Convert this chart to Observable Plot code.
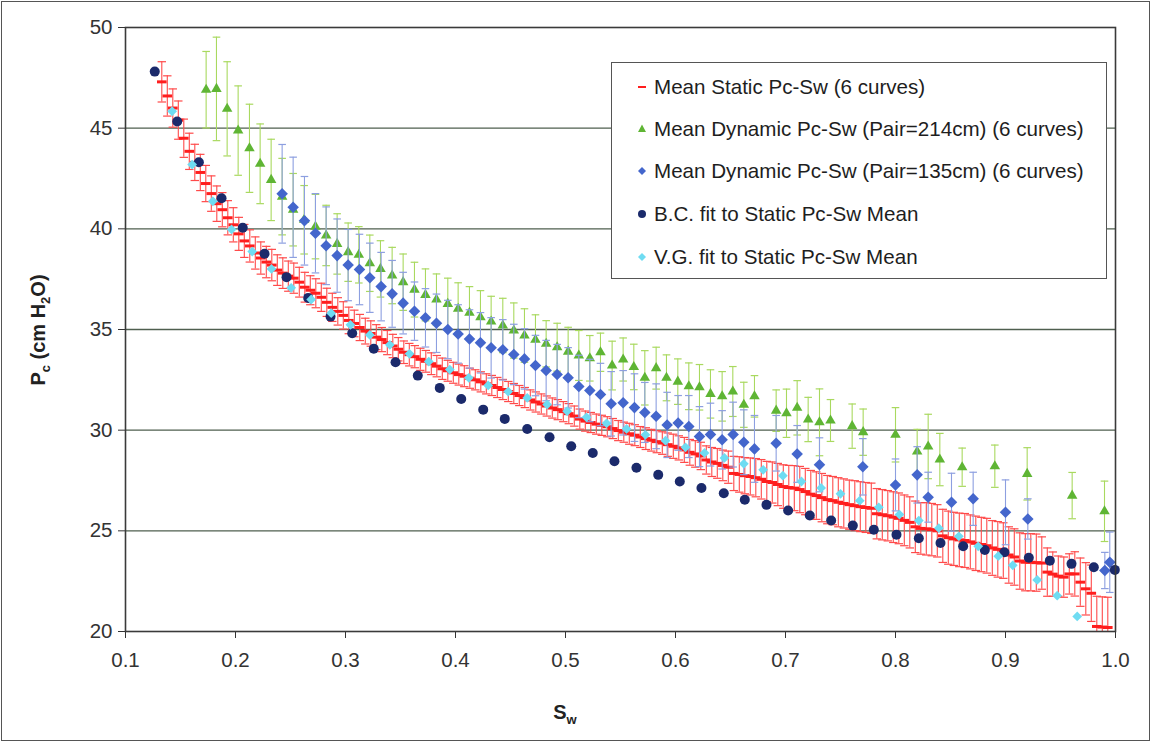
<!DOCTYPE html>
<html>
<head>
<meta charset="utf-8">
<script src="https://cdn.jsdelivr.net/npm/d3@7"></script>
<script src="https://cdn.jsdelivr.net/npm/@observablehq/plot@0.6"></script>
<style>
  body { margin: 0; background: #fff; font-family: "Liberation Sans", Arial, sans-serif; }
  #chart { position: relative; width: 1153px; height: 744px; overflow: hidden; }
  #outer { position: absolute; left: 1px; top: 1px; width: 1147px; height: 738px; border: 1.5px solid #555; pointer-events: none; }
  .ttl { position: absolute; font-weight: bold; font-size: 20px; color: #222; white-space: nowrap; }
  .ttl .sb { font-size: 13px; position: relative; top: 5px; }
  #ylab { left: 38px; top: 330px; transform: translate(-50%, -50%) rotate(-90deg); }
  #xlab { left: 565px; top: 712px; transform: translate(-50%, -50%); }
  #legend { position: absolute; left: 611px; top: 62px; width: 494px; height: 215px; border: 1.5px solid #555; background: #fff; }
  .entry { position: absolute; left: 0; height: 24px; display: flex; align-items: center; font-size: 20.6px; color: #1e1e1e; white-space: nowrap; }
  .entry svg { margin-left: 23px; margin-right: 5px; }
</style>
</head>
<body>
<div id="chart"></div>
<script>
// Mean static Pc-Sw curve (dash markers) with its standard-deviation bars
const staticSw = [
  0.133,0.138,0.143,0.148,0.153,0.158,0.163,0.168,0.173,0.178,
  0.183,0.188,0.193,0.198,0.203,0.208,0.213,0.218,0.223,0.228,
  0.233,0.238,0.243,0.248,0.253,0.258,0.263,0.268,0.273,0.278,
  0.283,0.288,0.293,0.298,0.303,0.308,0.313,0.318,0.323,0.328,
  0.333,0.338,0.343,0.348,0.353,0.358,0.363,0.368,0.373,0.378,
  0.383,0.388,0.393,0.398,0.403,0.408,0.413,0.418,0.423,0.428,
  0.433,0.438,0.443,0.448,0.453,0.458,0.463,0.468,0.473,0.478,
  0.483,0.488,0.493,0.498,0.503,0.508,0.513,0.518,0.523,0.528,
  0.533,0.538,0.543,0.548,0.553,0.558,0.563,0.568,0.573,0.578,
  0.583,0.588,0.593,0.598,0.603,0.608,0.613,0.618,0.623,0.628,
  0.633,0.638,0.643,0.648,0.653,0.658,0.663,0.668,0.673,0.678,
  0.683,0.688,0.693,0.698,0.703,0.708,0.713,0.718,0.723,0.728,
  0.733,0.738,0.743,0.748,0.753,0.758,0.763,0.768,0.773,0.778,
  0.783,0.788,0.793,0.798,0.803,0.808,0.813,0.818,0.823,0.828,
  0.833,0.838,0.843,0.848,0.853,0.858,0.863,0.868,0.873,0.878,
  0.883,0.888,0.893,0.898,0.903,0.908,0.913,0.918,0.923,0.928,
  0.933,0.938,0.943,0.948,0.953,0.958,0.963,0.968,0.973,0.978,
  0.983,0.988,0.993
];
const staticPc = [
  47.30,46.60,46.00,45.40,44.50,43.85,43.30,42.80,42.25,41.75,
  41.25,40.95,40.55,40.20,39.75,39.40,39.15,38.80,38.55,38.35,
  38.20,37.95,37.80,37.65,37.55,37.35,37.10,36.95,36.80,36.60,
  36.35,36.10,35.90,35.70,35.45,35.30,35.10,34.92,34.80,34.62,
  34.50,34.35,34.18,34.02,33.87,33.75,33.65,33.52,33.42,33.30,
  33.18,33.05,32.95,32.85,32.76,32.68,32.58,32.50,32.40,32.30,
  32.22,32.12,32.02,31.92,31.82,31.72,31.62,31.50,31.40,31.30,
  31.20,31.10,31.02,30.92,30.82,30.70,30.55,30.45,30.38,30.30,
  30.24,30.17,30.08,29.98,29.90,29.82,29.75,29.66,29.58,29.50,
  29.43,29.36,29.28,29.20,29.12,29.02,28.90,28.82,28.72,28.52,
  28.42,28.35,28.25,28.16,27.85,27.80,27.74,27.70,27.64,27.56,
  27.45,27.40,27.30,27.20,27.15,27.12,27.05,26.95,26.82,26.75,
  26.65,26.55,26.50,26.42,26.36,26.30,26.25,26.20,26.16,26.12,
  25.85,25.80,25.75,25.68,25.62,25.52,25.42,25.20,25.12,25.10,
  25.06,25.00,24.75,24.66,24.60,24.55,24.52,24.45,24.38,24.32,
  24.26,24.15,24.08,24.02,23.80,23.70,23.50,23.44,23.44,23.42,
  23.40,22.95,22.85,22.75,22.70,22.86,22.86,22.45,22.12,21.90,
  20.25,20.22,20.20
];
const staticErr = [
  1.00,1.00,0.95,0.95,0.95,0.90,0.90,0.90,0.90,0.88,
  0.88,0.85,0.85,0.85,0.82,0.82,0.80,0.80,0.80,0.78,
  0.78,0.76,0.76,0.75,0.75,0.74,0.74,0.72,0.72,0.70,
  0.70,0.70,0.68,0.68,0.66,0.66,0.65,0.64,0.63,0.62,
  0.60,0.60,0.58,0.58,0.56,0.56,0.55,0.55,0.54,0.54,
  0.53,0.53,0.52,0.52,0.52,0.52,0.50,0.50,0.50,0.50,
  0.50,0.50,0.50,0.50,0.50,0.50,0.50,0.50,0.50,0.50,
  0.50,0.50,0.50,0.50,0.50,0.50,0.50,0.50,0.50,0.50,
  0.50,0.50,0.50,0.50,0.50,0.52,0.52,0.52,0.54,0.54,
  0.55,0.56,0.58,0.60,0.60,0.62,0.64,0.66,0.68,0.70,
  0.72,0.74,0.76,0.80,0.85,0.88,0.90,0.92,0.95,0.98,
  1.00,1.02,1.05,1.08,1.10,1.12,1.15,1.15,1.18,1.18,
  1.20,1.20,1.20,1.22,1.22,1.22,1.24,1.24,1.24,1.25,
  1.25,1.25,1.25,1.26,1.26,1.26,1.27,1.28,1.28,1.30,
  1.30,1.30,1.32,1.32,1.32,1.33,1.34,1.34,1.35,1.35,
  1.36,1.36,1.38,1.38,1.40,1.40,1.40,1.42,1.42,1.42,
  1.30,1.20,1.10,1.00,1.00,1.00,1.10,1.20,1.30,1.40,
  1.50,1.50,1.50
];

// Mean dynamic Pc-Sw, air pressure 214 cm
const dyn214Sw = [
  0.1733,0.1827,0.1924,0.2024,0.2127,0.2224,0.2324,0.2424,0.2524,0.2624,
  0.2727,0.2824,0.2924,0.3024,0.3121,0.3221,0.3318,0.3424,0.3524,0.3627,
  0.3727,0.3827,0.3930,0.4024,0.4127,0.4227,0.4324,0.4430,0.4530,0.4627,
  0.4727,0.4824,0.4924,0.5024,0.5121,0.5221,0.5318,0.5424,0.5524,0.5621,
  0.5721,0.5824,0.5918,0.6021,0.6121,0.6218,0.6318,0.6424,0.6521,0.6621,
  0.6718,0.6915,0.7009,0.7106,0.7206,0.7309,0.7409,0.7606,0.7706,0.8000,
  0.8197,0.8297,0.8403,0.8606,0.8903,0.9197,0.9606,0.9900
];
const dyn214Pc = [
  46.91,46.95,45.96,44.88,44.00,43.23,42.43,41.60,40.95,40.45,
  40.11,39.67,39.25,38.84,38.71,38.29,38.01,37.68,37.35,36.98,
  36.72,36.49,36.27,36.03,35.83,35.61,35.40,35.20,34.95,34.70,
  34.49,34.29,34.12,33.90,33.71,33.57,33.87,33.21,33.51,33.14,
  32.60,33.08,32.60,32.41,32.18,32.13,31.80,31.68,31.92,31.26,
  31.68,30.97,30.84,31.11,30.53,30.39,30.48,30.20,29.90,29.77,
  28.94,29.19,28.54,28.16,28.21,27.83,26.75,25.97
];
const dyn214Err = [
  1.90,2.57,2.34,2.22,2.19,1.98,2.02,1.90,1.80,1.70,
  1.60,1.50,1.50,1.45,1.40,1.40,1.40,1.40,1.40,1.36,
  1.29,1.27,1.28,1.29,1.30,1.32,1.25,1.35,1.37,1.33,
  1.24,1.15,1.19,1.21,1.24,1.13,0.95,1.21,1.07,1.13,
  1.35,1.04,1.14,1.13,1.16,1.13,1.20,1.23,1.24,1.12,
  1.03,1.03,1.20,1.35,1.10,1.66,1.04,1.10,1.15,1.35,
  1.10,1.60,1.30,0.95,1.05,1.30,1.15,1.50
];

// Mean dynamic Pc-Sw, air pressure 135 cm
const dyn135Sw = [
  0.2424,0.2524,0.2627,0.2727,0.2824,0.2924,0.3024,0.3127,0.3221,0.3324,
  0.3424,0.3524,0.3627,0.3727,0.3827,0.3930,0.4024,0.4127,0.4227,0.4324,
  0.4430,0.4530,0.4627,0.4727,0.4824,0.4924,0.5024,0.5121,0.5221,0.5318,
  0.5415,0.5524,0.5627,0.5721,0.5824,0.5924,0.6024,0.6121,0.6218,0.6318,
  0.6424,0.6524,0.6621,0.6718,0.6915,0.7106,0.7309,0.7703,0.8000,0.8197,
  0.8297,0.8509,0.8706,0.9000,0.9203,0.9903,0.9948
];
const dyn135Pc = [
  41.74,41.07,40.40,39.78,39.16,38.67,38.20,37.98,37.57,37.13,
  36.77,36.31,35.91,35.58,35.31,35.00,34.78,34.53,34.34,34.09,
  33.99,33.76,33.54,33.21,32.96,32.76,32.60,32.17,31.97,31.77,
  31.31,31.36,31.12,30.88,30.69,30.26,30.36,30.18,29.68,29.78,
  29.52,29.78,29.40,29.07,29.35,28.82,28.28,28.18,27.28,27.78,
  26.67,26.42,26.59,25.92,25.59,23.03,23.44
];
const dyn135Err = [
  2.45,2.49,2.20,1.97,1.93,1.82,1.77,1.75,1.72,1.70,
  1.66,1.53,1.45,1.45,1.45,1.45,1.45,1.45,1.50,1.50,
  1.50,1.50,1.50,1.50,1.50,1.50,1.50,1.55,1.55,1.55,
  1.60,1.60,1.68,1.49,1.61,1.62,1.36,1.54,1.49,1.56,
  1.45,1.61,1.61,1.66,1.38,1.41,1.34,1.40,1.29,1.40,
  1.24,1.44,1.32,1.61,1.00,0.90,1.50
];

// Brooks-Corey fit to the static mean
const bcSw = [
  0.1266,0.1470,0.1667,0.1873,0.2066,0.2264,0.2464,0.2661,0.2864,0.3061,
  0.3257,0.3455,0.3657,0.3857,0.4052,0.4252,0.4448,0.4652,0.4855,0.5052,
  0.5248,0.5445,0.5645,0.5843,0.6039,0.6236,0.6439,0.6630,0.6827,0.7024,
  0.7221,0.7415,0.7612,0.7803,0.8009,0.8212,0.8409,0.8615,0.8812,0.8990,
  0.9212,0.9403,0.9600,0.9803,0.9994
];
const bcPc = [
  47.81,45.33,43.31,41.52,40.05,38.76,37.60,36.57,35.64,34.81,
  34.04,33.37,32.71,32.10,31.55,31.02,30.56,30.06,29.65,29.20,
  28.87,28.46,28.13,27.78,27.45,27.13,26.87,26.54,26.29,26.01,
  25.76,25.51,25.26,25.05,24.81,24.63,24.40,24.23,24.05,23.94,
  23.66,23.52,23.36,23.19,23.06
];

// van Genuchten fit to the static mean
const vgSw = [
  0.1424,0.1606,0.1794,0.1964,0.2152,0.2327,0.2506,0.2688,0.2870,0.3045,
  0.3221,0.3403,0.3582,0.3757,0.3948,0.4121,0.4297,0.4479,0.4652,0.4833,
  0.5015,0.5191,0.5373,0.5555,0.5727,0.5909,0.6091,0.6264,0.6445,0.6621,
  0.6797,0.6976,0.7145,0.7324,0.7500,0.7675,0.7848,0.8036,0.8212,0.8394,
  0.8576,0.8752,0.8934,0.9066,0.9288,0.9470,0.9652
];
const vgPc = [
  45.84,43.19,41.37,39.97,38.87,38.01,37.07,36.49,35.81,35.23,
  34.73,34.24,33.79,33.41,33.01,32.60,32.22,31.92,31.60,31.27,
  30.94,30.64,30.34,30.06,29.77,29.48,29.15,28.87,28.62,28.33,
  28.03,27.74,27.45,27.13,26.84,26.50,26.17,25.81,25.51,25.13,
  24.73,24.23,23.74,23.29,22.56,21.78,20.75
];

const xTicks = [0.1,0.2,0.3,0.4,0.5,0.6,0.7,0.8,0.9,1.0];
const yTicks = [20,25,30,35,40,45,50];
const gridValues = [25,30,35,40,45];

const legendLabels = [
  "Mean Static Pc-Sw (6 curves)",
  "Mean Dynamic Pc-Sw (Pair=214cm) (6 curves)",
  "Mean Dynamic Pc-Sw (Pair=135cm) (6 curves)",
  "B.C. fit to Static Pc-Sw Mean",
  "V.G. fit to Static Pc-Sw Mean"
];

const colors = {
  staticLine: "#ff1e1e",
  staticBar: "#ff4a4a",
  d214: "#5fb534",
  d214Bar: "#a9d95f",
  d135: "#4466cc",
  d135Bar: "#8d9fe0",
  bc: "#1b2a6b",
  vg: "#6fdcf2"
};

const rows = (sw, pc, err) => sw.map((x, i) => ({x, y: pc[i], e: err ? err[i] : 0}));
const staticRows = rows(staticSw, staticPc, staticErr);
const d214Rows = rows(dyn214Sw, dyn214Pc, dyn214Err);
const d135Rows = rows(dyn135Sw, dyn135Pc, dyn135Err);
const bcRows = rows(bcSw, bcPc);
const vgRows = rows(vgSw, vgPc);

// horizontal stroke used for error-bar caps and the dash marker
const hline = {
  draw(ctx, size) {
    const w = Math.sqrt(size / Math.PI);
    ctx.moveTo(-w, 0);
    ctx.lineTo(w, 0);
  }
};

function errorBars(data, stroke, capR) {
  return [
    Plot.ruleX(data, {x: "x", y1: d => d.y - d.e, y2: d => d.y + d.e, stroke, strokeWidth: 1.1, clip: true}),
    Plot.dot(data, {x: "x", y: d => d.y + d.e, symbol: hline, r: capR, fill: "none", stroke, strokeWidth: 1.2, clip: true}),
    Plot.dot(data, {x: "x", y: d => d.y - d.e, symbol: hline, r: capR, fill: "none", stroke, strokeWidth: 1.2, clip: true})
  ];
}

const plot = Plot.plot({
  width: 1153,
  height: 744,
  marginLeft: 125,
  marginRight: 38,
  marginTop: 27,
  marginBottom: 113,
  x: {domain: [0.1, 1.0]},
  y: {domain: [20, 50]},
  style: {fontFamily: "'Liberation Sans', Arial, sans-serif", fontSize: "20.5px", color: "#333", background: "transparent"},
  marks: [
    Plot.gridY(gridValues, {stroke: "#4f5f4f", strokeOpacity: 1, strokeWidth: 1.4}),
    ...errorBars(staticRows, colors.staticBar, 4.2),
    Plot.dot(staticRows, {x: "x", y: "y", symbol: hline, r: 4.8, fill: "none", stroke: colors.staticLine, strokeWidth: 3, clip: true}),
    ...errorBars(d214Rows, colors.d214Bar, 3.8),
    Plot.dot(d214Rows, {x: "x", y: "y", symbol: "triangle", r: 3.9, fill: colors.d214, stroke: "none"}),
    ...errorBars(d135Rows, colors.d135Bar, 3.8),
    Plot.dot(d135Rows, {x: "x", y: "y", symbol: "diamond2", r: 5.2, fill: colors.d135, stroke: "none"}),
    Plot.dot(bcRows, {x: "x", y: "y", symbol: "circle", r: 5, fill: colors.bc, stroke: "none"}),
    Plot.dot(vgRows, {x: "x", y: "y", symbol: "diamond2", r: 4.4, fill: colors.vg, stroke: "none"}),
    Plot.axisX({ticks: xTicks, tickFormat: d3.format(".1f"), tickSize: 7, tickPadding: 14, label: null, stroke: "#333"}),
    Plot.axisY({ticks: yTicks, tickSize: 7, tickPadding: 6, label: null, stroke: "#333"}),
    Plot.frame({stroke: "#3a3a3a", strokeWidth: 1.6})
  ]
});

const chart = document.getElementById("chart");
chart.appendChild(plot);

// axis titles with subscripts
const ylab = document.createElement("div");
ylab.className = "ttl"; ylab.id = "ylab";
ylab.innerHTML = 'P<span class="sb">c</span> (cm H<span class="sb">2</span>O)';
chart.appendChild(ylab);

const xlab = document.createElement("div");
xlab.className = "ttl"; xlab.id = "xlab";
xlab.innerHTML = 'S<span class="sb">w</span>';
chart.appendChild(xlab);

// legend box
const legendMarkers = [
  '<line x1="3" y1="7" x2="11" y2="7" stroke="' + colors.staticLine + '" stroke-width="2"/>',
  '<path d="M7 2.5 L11 10 L3 10 Z" fill="' + colors.d214 + '"/>',
  '<path d="M7 3 L11 7 L7 11 L3 7 Z" fill="' + colors.d135 + '"/>',
  '<circle cx="7" cy="7" r="4" fill="' + colors.bc + '"/>',
  '<path d="M7 3 L11 7 L7 11 L3 7 Z" fill="' + colors.vg + '"/>'
];
const legendTops = [12, 54, 96, 139, 182];
const legend = document.createElement("div");
legend.id = "legend";
legendLabels.forEach((label, i) => {
  const e = document.createElement("div");
  e.className = "entry";
  e.style.top = legendTops[i] + "px";
  e.innerHTML = '<svg width="14" height="14" viewBox="0 0 14 14">' + legendMarkers[i] + '</svg><span>' + label + '</span>';
  legend.appendChild(e);
});
chart.appendChild(legend);

const outer = document.createElement("div");
outer.id = "outer";
chart.appendChild(outer);
</script>
</body>
</html>
